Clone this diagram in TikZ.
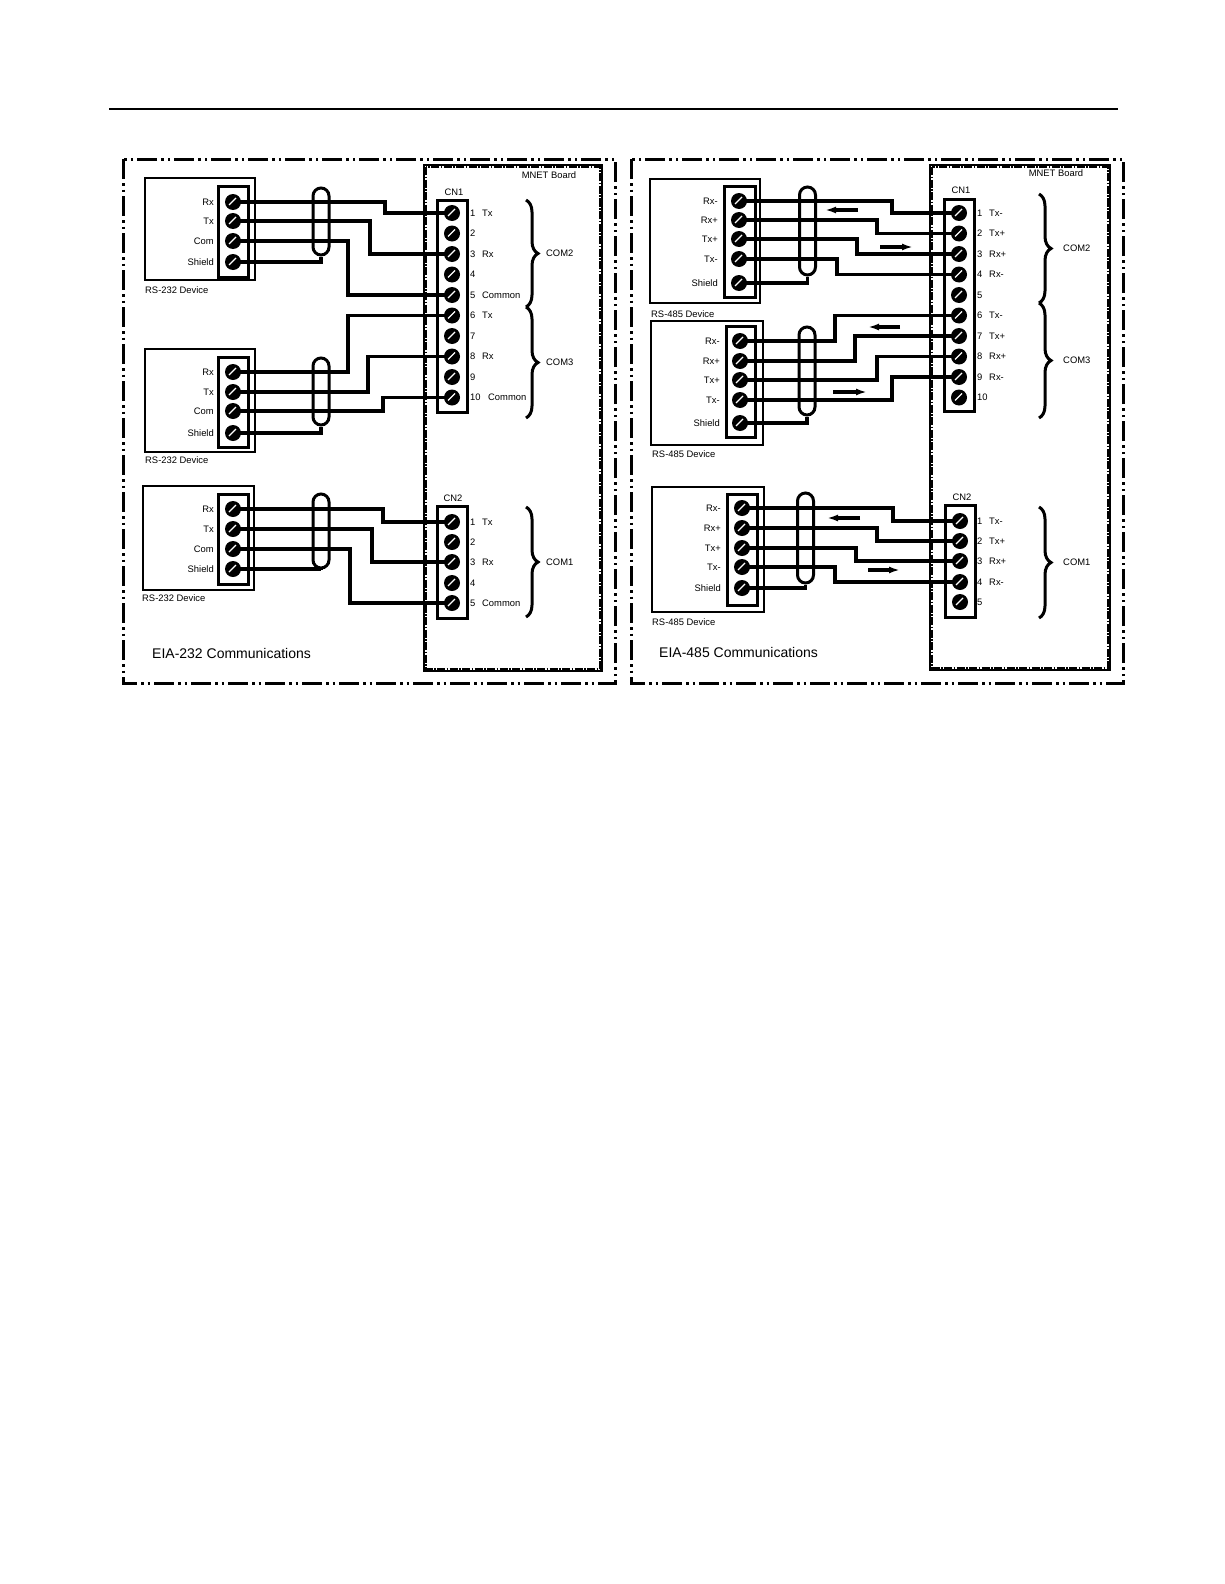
\documentclass[tikz,border=0pt]{standalone}
\usepackage{fontspec}
\setmainfont{Liberation Sans}
\usetikzlibrary{decorations.pathreplacing,arrows.meta}
\pgfdeclarelayer{bg}
\pgfsetlayers{bg,main}
\begin{document}
\begin{tikzpicture}[x=1pt,y=-1pt,
  wire/.style={line width=3.6pt},
  screw/.style={circle,fill=black,minimum size=16pt,inner sep=0pt,
    path picture={\draw[white,line width=1.2pt]
      ([shift={(-4pt,-3pt)}]path picture bounding box.center) --
      ([shift={(3pt,4pt)}]path picture bounding box.center);}},
  lbl/.style={font=\fontsize{9.4}{11}\selectfont,inner sep=0pt,text height=6.8pt,text depth=0pt},
  ttl/.style={font=\fontsize{14}{16}\selectfont,inner sep=0pt,text height=10pt,text depth=0pt,anchor=west},
  outerbox/.style={line width=3pt,dash pattern=on 20pt off 4pt on 2.5pt off 4pt on 2.5pt off 4pt},
  innersolid/.style={line width=2.4pt},
  innerdots/.style={line width=2pt,dash pattern=on 8pt off 1.5pt on 1.5pt off 1.5pt},
  devbox/.style={line width=2pt},
  termbox/.style={line width=3pt},
  cable/.style={draw,line width=3pt,rounded corners=8pt,minimum width=16pt,inner sep=0pt},
  combrace/.style={decorate,decoration={brace,amplitude=12pt},line width=3pt},
  flow/.style={line width=3.2pt,-{Latex[length=11pt,width=7pt]}},
]
\begin{pgfonlayer}{bg}
\fill[white] (0,0) rectangle (1224,1584);
\end{pgfonlayer}
\useasboundingbox (0,0) rectangle (1224,1584);

% top rule
\draw[line width=2pt] (109,109) -- (1118,109);

% frames
\draw[outerbox] (123,159) rectangle (615,683);
\draw[innersolid] (424,165) rectangle (602,671);
\draw[innerdots] (426.2,167.2) rectangle (599.8,668.8);
\draw[outerbox] (631,159) rectangle (1123,683);
\draw[innersolid] (930,165) rectangle (1110,670);
\draw[innerdots] (932.2,167.2) rectangle (1107.8,667.8);

% ---------- screws ----------
\foreach \yy [count=\i] in {202,221,241,262} \node[screw] (d1-\i) at (233,\yy) {};
\foreach \yy [count=\i] in {372,392,411,433} \node[screw] (d2-\i) at (233,\yy) {};
\foreach \yy [count=\i] in {509,529,549,569} \node[screw] (d3-\i) at (233,\yy) {};
\foreach \i in {1,...,10} \node[screw] (L1-\i) at (452,{213+20.5*(\i-1)}) {};
\foreach \yy [count=\i] in {522,542,562,583,603} \node[screw] (L2-\i) at (452,\yy) {};

\foreach \yy [count=\i] in {201,220,239,259,283} \node[screw] (a-\i) at (739,\yy) {};
\foreach \yy [count=\i] in {341,361,380,400,423} \node[screw] (b-\i) at (740,\yy) {};
\foreach \yy [count=\i] in {508,528,548,567,588} \node[screw] (c-\i) at (742,\yy) {};
\foreach \i in {1,...,10} \node[screw] (R1-\i) at (959,{213+20.5*(\i-1)}) {};
\foreach \yy [count=\i] in {521,541,561,582,602} \node[screw] (R2-\i) at (960,\yy) {};

% ---------- cables ----------
\node[cable,minimum height=67pt] (k1) at (321,221.5) {};
\node[cable,minimum height=67pt] (k2) at (321,391.5) {};
\node[cable,minimum height=74pt] (k3) at (321,531) {};
\node[cable,minimum height=88pt] (ka) at (807.5,231) {};
\node[cable,minimum height=88pt] (kb) at (807,371) {};
\node[cable,minimum height=90pt] (kc) at (805.5,538) {};

\begin{pgfonlayer}{bg}
% boxes
\draw[devbox] (145,178) rectangle (255,280);
\draw[termbox] (218,186) rectangle (248,277);
\draw[devbox] (145,349) rectangle (255,452);
\draw[termbox] (218,357) rectangle (248,447);
\draw[devbox] (143,486) rectangle (254,590);
\draw[termbox] (218,494) rectangle (248,584);
\draw[termbox] (437,200) rectangle (467,412);
\draw[termbox] (437,506) rectangle (467,618);

\draw[devbox] (650,179) rectangle (760,303);
\draw[termbox] (724,186) rectangle (755,297);
\draw[devbox] (651,321) rectangle (763,445);
\draw[termbox] (726,326) rectangle (755,437);
\draw[devbox] (652,487) rectangle (764,612);
\draw[termbox] (727,494) rectangle (757,605);
\draw[termbox] (944,199) rectangle (974,411);
\draw[termbox] (945,505) rectangle (975,617);

% wires left
\draw[wire] (d1-1.center) -- ++(152,0) |- (L1-1.center);
\draw[wire] (d1-2.center) -- ++(137,0) |- (L1-3.center);
\draw[wire] (d1-3.center) -- ++(115,0) |- (L1-5.center);
\draw[wire] (d1-4.center) -| (k1.south);
\draw[wire] (d2-1.center) -- ++(115,0) |- (L1-6.center);
\draw[wire] (d2-2.center) -- ++(135,0) |- (L1-8.center);
\draw[wire] (d2-3.center) -- ++(150,0) |- (L1-10.center);
\draw[wire] (d2-4.center) -| (k2.south);
\draw[wire] (d3-1.center) -- ++(150,0) |- (L2-1.center);
\draw[wire] (d3-2.center) -- ++(139,0) |- (L2-3.center);
\draw[wire] (d3-3.center) -- ++(117,0) |- (L2-5.center);
\draw[wire] (d3-4.center) -| (k3.south);

% wires right
\draw[wire] (a-1.center) -- ++(153,0) |- (R1-1.center);
\draw[wire] (a-2.center) -- ++(138,0) |- (R1-2.center);
\draw[wire] (a-3.center) -- ++(118,0) |- (R1-3.center);
\draw[wire] (a-4.center) -- ++(98,0) |- (R1-4.center);
\draw[wire] (a-5.center) -| (ka.south);
\draw[wire] (b-1.center) -- ++(95,0) |- (R1-6.center);
\draw[wire] (b-2.center) -- ++(115,0) |- (R1-7.center);
\draw[wire] (b-3.center) -- ++(137,0) |- (R1-8.center);
\draw[wire] (b-4.center) -- ++(152,0) |- (R1-9.center);
\draw[wire] (b-5.center) -| (kb.south);
\draw[wire] (c-1.center) -- ++(151,0) |- (R2-1.center);
\draw[wire] (c-2.center) -- ++(135,0) |- (R2-2.center);
\draw[wire] (c-3.center) -- ++(114,0) |- (R2-3.center);
\draw[wire] (c-4.center) -- ++(93,0) |- (R2-4.center);
\draw[wire] (c-5.center) -| (kc.south);
\end{pgfonlayer}

% ---------- direction arrows ----------
\coordinate (fa1) at (858,210); \coordinate (ta1) at (825,210);
\coordinate (fa2) at (880,247); \coordinate (ta2) at (913,247);
\coordinate (fb1) at (900,327); \coordinate (tb1) at (868,327);
\coordinate (fb2) at (833,392); \coordinate (tb2) at (867,392);
\coordinate (fc1) at (860,518); \coordinate (tc1) at (827,518);
\coordinate (fc2) at (868,570); \coordinate (tc2) at (900,570);
\draw[flow] (fa1) -- (ta1);
\draw[flow] (fa2) -- (ta2);
\draw[flow] (fb1) -- (tb1);
\draw[flow] (fb2) -- (tb2);
\draw[flow] (fc1) -- (tc1);
\draw[flow] (fc2) -- (tc2);

% ---------- braces ----------
\draw[combrace] (526,200) -- (526,307);
\draw[combrace] (526,307) -- (526,418);
\draw[combrace] (526,507) -- (526,617);
\draw[combrace] (1039,194) -- (1039,303);
\draw[combrace] (1039,303) -- (1039,418);
\draw[combrace] (1039,507) -- (1039,618);

% ---------- labels left ----------
\foreach \t/\yy [count=\i] in {Rx/202,Tx/221,Com/241,Shield/262} \node[lbl,anchor=east] (t1-\i) at (214,\yy) {\t};
\foreach \t/\yy [count=\i] in {Rx/372,Tx/392,Com/411,Shield/433} \node[lbl,anchor=east] (t2-\i) at (214,\yy) {\t};
\foreach \t/\yy [count=\i] in {Rx/509,Tx/529,Com/549,Shield/569} \node[lbl,anchor=east] (t3-\i) at (214,\yy) {\t};
\node[lbl,anchor=west] (n1) at (145,290) {RS-232 Device};
\node[lbl,anchor=west] (n2) at (145,460) {RS-232 Device};
\node[lbl,anchor=west] (n3) at (142,598) {RS-232 Device};
\node[lbl] (cnl1) at (454,192) {CN1};
\node[lbl] (cnl2) at (453,498) {CN2};
\node[lbl] (mbl) at (549,175) {MNET Board};
\foreach \t [count=\i] in {Tx,,Rx,,Common,Tx,,Rx,} {
  \node[lbl,anchor=west] (pn1-\i) at (470,{213+20.5*(\i-1)}) {\i};
  \node[lbl,anchor=west] (pt1-\i) at (482,{213+20.5*(\i-1)}) {\t};
}
\node[lbl,anchor=west] (pn1-10) at (470,397.5) {10};
\node[lbl,anchor=west] (pt1-10) at (488,397.5) {Common};
\foreach \t/\yy [count=\i] in {Tx/522,/542,Rx/562,/583,Common/603} {
  \node[lbl,anchor=west] (pn2-\i) at (470,\yy) {\i};
  \node[lbl,anchor=west] (pt2-\i) at (482,\yy) {\t};
}
\node[lbl,anchor=west] (cm2l) at (546,253.5) {COM2};
\node[lbl,anchor=west] (cm3l) at (546,362.5) {COM3};
\node[lbl,anchor=west] (cm1l) at (546,562) {COM1};
\node[ttl] (eia232) at (152,653) {EIA-232 Communications};

% ---------- labels right ----------
\foreach \t/\yy [count=\i] in {Rx-/201,Rx+/220,Tx+/239,Tx-/259,Shield/283} \node[lbl,anchor=east] (ta-\i) at (718,\yy) {\t};
\foreach \t/\yy [count=\i] in {Rx-/341,Rx+/361,Tx+/380,Tx-/400,Shield/423} \node[lbl,anchor=east] (tb-\i) at (720,\yy) {\t};
\foreach \t/\yy [count=\i] in {Rx-/508,Rx+/528,Tx+/548,Tx-/567,Shield/588} \node[lbl,anchor=east] (tc-\i) at (721,\yy) {\t};
\node[lbl,anchor=west] (na) at (651,314) {RS-485 Device};
\node[lbl,anchor=west] (nb) at (652,454) {RS-485 Device};
\node[lbl,anchor=west] (nc) at (652,622) {RS-485 Device};
\node[lbl] (cnr1) at (961,190) {CN1};
\node[lbl] (cnr2) at (962,497) {CN2};
\node[lbl] (mbr) at (1056,173) {MNET Board};
\foreach \t [count=\i] in {Tx-,Tx+,Rx+,Rx-,,Tx-,Tx+,Rx+,Rx-,} {
  \node[lbl,anchor=west] (rn1-\i) at (977,{213+20.5*(\i-1)}) {\i};
  \node[lbl,anchor=west] (rt1-\i) at (989,{213+20.5*(\i-1)}) {\t};
}
\foreach \t/\yy [count=\i] in {Tx-/521,Tx+/541,Rx+/561,Rx-/582,/602} {
  \node[lbl,anchor=west] (rn2-\i) at (977,\yy) {\i};
  \node[lbl,anchor=west] (rt2-\i) at (989,\yy) {\t};
}
\node[lbl,anchor=west] (cm2r) at (1063,248.5) {COM2};
\node[lbl,anchor=west] (cm3r) at (1063,360.5) {COM3};
\node[lbl,anchor=west] (cm1r) at (1063,562.5) {COM1};
\node[ttl] (eia485) at (659,652) {EIA-485 Communications};
\end{tikzpicture}
\end{document}
